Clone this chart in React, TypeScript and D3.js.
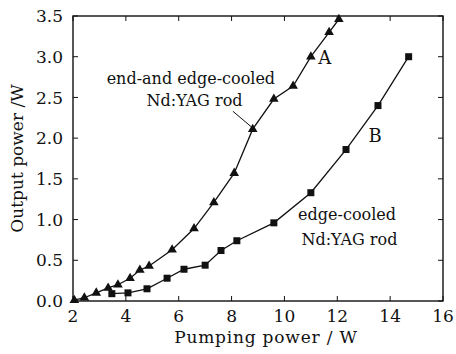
import React, { useRef, useEffect } from "react";
import * as d3 from "d3";

// series A: end-and edge-cooled rod (triangles)
const pumpA = [2.05, 2.43, 2.88, 3.33, 3.7, 4.16, 4.53, 4.88, 5.75, 6.58, 7.33, 8.1, 8.8, 9.6, 10.33, 11.0, 11.69, 12.06];
const outA = [0.01, 0.04, 0.1, 0.16, 0.2, 0.28, 0.38, 0.43, 0.63, 0.89, 1.21, 1.57, 2.11, 2.48, 2.64, 3.0, 3.3, 3.46];

// series B: edge-cooled rod (squares)
const pumpB = [3.47, 4.08, 4.8, 5.56, 6.2, 7.0, 7.6, 8.2, 9.6, 11.0, 12.33, 13.54, 14.7];
const outB = [0.09, 0.1, 0.15, 0.28, 0.39, 0.44, 0.62, 0.74, 0.96, 1.33, 1.86, 2.4, 3.0];

const xTicks = [2, 4, 6, 8, 10, 12, 14, 16];
const yTicks = [0, 0.5, 1.0, 1.5, 2.0, 2.5, 3.0, 3.5];

const W = 456;
const H = 354;
const FONT = "'DejaVu Serif', serif";

const Chart = () => {
  const svgRef = useRef(null);

  useEffect(() => {
    const svg = d3.select(svgRef.current);
    svg.selectAll("*").remove();

    const margin = { top: 16, right: 13, bottom: 53, left: 73 };
    const innerW = W - margin.left - margin.right;
    const innerH = H - margin.top - margin.bottom;

    const x = d3.scaleLinear().domain([2, 16]).range([0, innerW]);
    const y = d3.scaleLinear().domain([0, 3.5]).range([innerH, 0]);

    const g = svg
      .append("g")
      .attr("transform", `translate(${margin.left},${margin.top})`);

    // frame
    g.append("rect")
      .attr("width", innerW)
      .attr("height", innerH)
      .attr("fill", "none")
      .attr("stroke", "#111")
      .attr("stroke-width", 1.4);

    const tickLen = 5;
    // ticks on all four sides, pointing in
    xTicks.forEach((t) => {
      g.append("line")
        .attr("x1", x(t)).attr("x2", x(t))
        .attr("y1", innerH).attr("y2", innerH - tickLen)
        .attr("stroke", "#111");
      g.append("line")
        .attr("x1", x(t)).attr("x2", x(t))
        .attr("y1", 0).attr("y2", tickLen)
        .attr("stroke", "#111");
      g.append("text")
        .attr("x", x(t))
        .attr("y", innerH + 21)
        .attr("text-anchor", "middle")
        .style("font-family", FONT)
        .style("font-size", "17px")
        .attr("fill", "#111")
        .text(t);
    });

    yTicks.forEach((t) => {
      g.append("line")
        .attr("x1", 0).attr("x2", tickLen)
        .attr("y1", y(t)).attr("y2", y(t))
        .attr("stroke", "#111");
      g.append("line")
        .attr("x1", innerW).attr("x2", innerW - tickLen)
        .attr("y1", y(t)).attr("y2", y(t))
        .attr("stroke", "#111");
      g.append("text")
        .attr("x", -10)
        .attr("y", y(t))
        .attr("dy", "0.36em")
        .attr("text-anchor", "end")
        .style("font-family", FONT)
        .style("font-size", "17px")
        .attr("fill", "#111")
        .text(d3.format(".1f")(t));
    });

    // axis titles
    g.append("text")
      .attr("x", x(9.3))
      .attr("y", innerH + 42)
      .attr("text-anchor", "middle")
      .style("font-family", FONT)
      .style("font-size", "17px")
      .style("letter-spacing", "0.8px")
      .attr("fill", "#111")
      .text("Pumping power / W");

    g.append("text")
      .attr("transform", `translate(${-50},${innerH / 2}) rotate(-90)`)
      .attr("text-anchor", "middle")
      .style("font-family", FONT)
      .style("font-size", "17px")
      .attr("fill", "#111")
      .text("Output power /W");

    const line = d3
      .line()
      .x((d) => x(d[0]))
      .y((d) => y(d[1]));

    const dataA = pumpA.map((p, i) => [p, outA[i]]);
    const dataB = pumpB.map((p, i) => [p, outB[i]]);

    [dataA, dataB].forEach((d) => {
      g.append("path")
        .datum(d)
        .attr("d", line)
        .attr("fill", "none")
        .attr("stroke", "#111")
        .attr("stroke-width", 1.3);
    });

    const tri = d3.symbol().type(d3.symbolTriangle).size(40);
    g.selectAll(".triA")
      .data(dataA)
      .enter()
      .append("path")
      .attr("d", tri)
      .attr("transform", (d) => `translate(${x(d[0])},${y(d[1])})`)
      .attr("fill", "#111");

    g.selectAll(".sqB")
      .data(dataB)
      .enter()
      .append("rect")
      .attr("x", (d) => x(d[0]) - 3.5)
      .attr("y", (d) => y(d[1]) - 3.5)
      .attr("width", 7)
      .attr("height", 7)
      .attr("fill", "#111");

    // annotations
    const ann = (tx, ty, s, size = 16) =>
      g.append("text")
        .attr("x", tx)
        .attr("y", ty)
        .attr("text-anchor", "middle")
        .style("font-family", FONT)
        .style("font-size", `${size}px`)
        .attr("fill", "#111")
        .text(s);

    ann(x(11.53), y(2.91), "A", 18);
    ann(x(13.43), y(1.95), "B", 18);
    ann(x(6.46), y(2.67), "end-and edge-cooled");
    ann(x(6.6), y(2.39), "Nd:YAG rod");
    ann(x(12.37), y(0.99), "edge-cooled");
    ann(x(12.46), y(0.69), "Nd:YAG rod");

    // leader line to series A
    g.append("line")
      .attr("x1", x(8.05)).attr("y1", y(2.33))
      .attr("x2", x(8.78)).attr("y2", y(2.13))
      .attr("stroke", "#111")
      .attr("stroke-width", 1);
  }, []);

  return <svg ref={svgRef} width={W} height={H} style={{ display: "block" }} />;
};

export default function App() {
  return (
    <div style={{ position: "absolute", left: 0, top: 0, background: "#fff" }}>
      <Chart />
    </div>
  );
}
